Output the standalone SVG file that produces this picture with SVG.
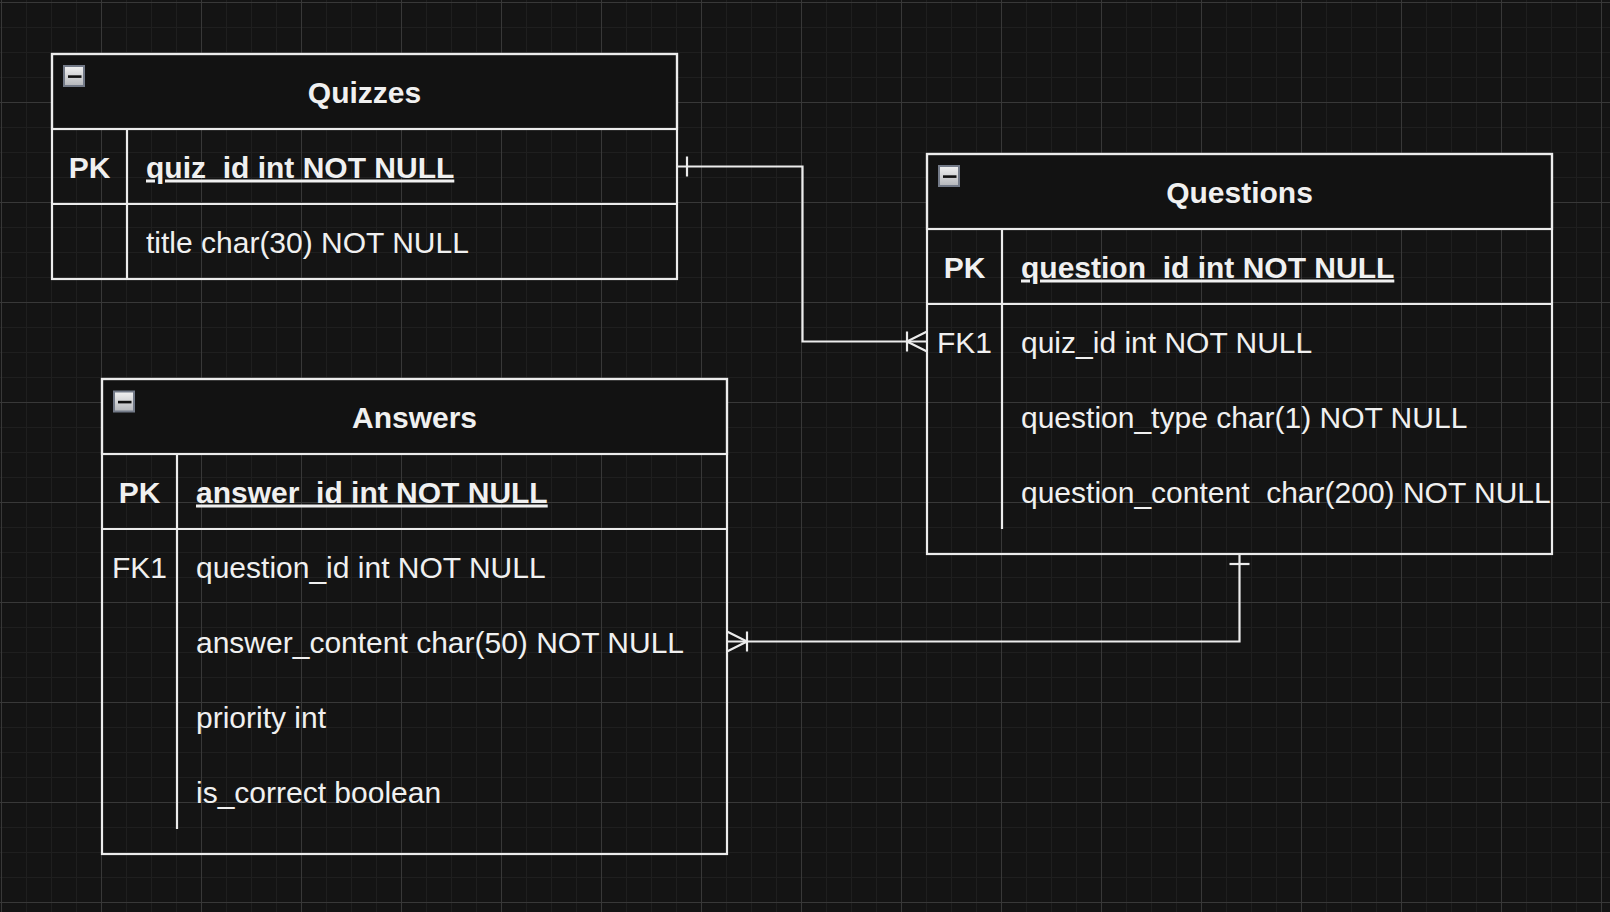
<svg xmlns="http://www.w3.org/2000/svg" width="1610" height="912" viewBox="0 0 1610 912">
  <style>
    .t { font-family: "Liberation Sans", Arial, Helvetica, sans-serif; font-size: 30px; fill: #f0f0f0; }
    .b { font-weight: bold; }
    .c { text-anchor: middle; }
    .u { text-decoration: underline; }
    .frame { fill: none; stroke: #ececec; stroke-width: 2.2; }
    .head { fill: #121212; stroke: #ececec; stroke-width: 2.2; }
    .ln { fill: none; stroke: #ececec; stroke-width: 2.2; }
    .conn { fill: none; stroke: #ececec; stroke-width: 2.2; }
  </style>
  <defs>
    <pattern id="grid" x="1" y="2" width="100" height="100" patternUnits="userSpaceOnUse">
      <path d="M25.5 0V100M50.5 0V100M75.5 0V100M0 25.5H100M0 50.5H100M0 75.5H100" stroke="#1f1f1f" stroke-width="1" fill="none"/>
      <path d="M0.5 0V100M0 0.5H100" stroke="#383838" stroke-width="1" fill="none"/>
    </pattern>
    <linearGradient id="icoGrad" x1="0" y1="0" x2="0" y2="1">
      <stop offset="0" stop-color="#f2f2f2"/>
      <stop offset="1" stop-color="#b4b6ba"/>
    </linearGradient>
    <g id="collapse">
      <rect x="1" y="1" width="20" height="20" fill="url(#icoGrad)" stroke="#737a88" stroke-width="2"/>
      <rect x="5" y="10.3" width="13.5" height="2.6" fill="#111111"/>
    </g>
  </defs>

  <rect x="0" y="0" width="1610" height="912" fill="#141414"/>
  <rect x="0" y="0" width="1610" height="912" fill="url(#grid)"/>

  <g id="connectors">
    <!-- Quizzes.quiz_id -> Questions.quiz_id -->
    <path class="conn" d="M677 166.5H802.5V341.5H927"/>
    <path class="conn" d="M687 156.5V176.5"/>
    <path class="conn" d="M907 331.5V351.5M927 331.5L907 341.5L927 351.5"/>
    <!-- Questions.question_id -> Answers.question_id -->
    <path class="conn" d="M1239.5 554V641.5H727"/>
    <path class="conn" d="M1229.5 564H1249.5"/>
    <path class="conn" d="M747 631.5V651.5M727 631.5L747 641.5L727 651.5"/>
  </g>

  <g id="quizzes">
    <rect class="head" x="52" y="54" width="625" height="75"/>
    <rect class="frame" x="52" y="54" width="625" height="225"/>
    <path class="ln" d="M52 204H677M127 129V279"/>
    <use href="#collapse" x="63" y="65"/>
    <text class="t b c" x="364.5" y="102.5">Quizzes</text>
    <text class="t b c" x="89.5" y="177.5">PK</text>
    <text class="t b u" x="146" y="177.5">quiz_id int NOT NULL</text>
    <text class="t" x="146" y="252.5">title char(30) NOT NULL</text>
  </g>

  <g id="questions">
    <rect class="head" x="927" y="154" width="625" height="75"/>
    <rect class="frame" x="927" y="154" width="625" height="400"/>
    <path class="ln" d="M927 304H1552M1002 229V529"/>
    <use href="#collapse" x="938" y="165"/>
    <text class="t b c" x="1239.5" y="202.5">Questions</text>
    <text class="t b c" x="964.5" y="277.5">PK</text>
    <text class="t b u" x="1021" y="277.5">question_id int NOT NULL</text>
    <text class="t c" x="964.5" y="352.5">FK1</text>
    <text class="t" x="1021" y="352.5">quiz_id int NOT NULL</text>
    <text class="t" x="1021" y="427.5">question_type char(1) NOT NULL</text>
    <text class="t" x="1021" y="502.5">question_content&#160; char(200) NOT NULL</text>
  </g>

  <g id="answers">
    <rect class="head" x="102" y="379" width="625" height="75"/>
    <rect class="frame" x="102" y="379" width="625" height="475"/>
    <path class="ln" d="M102 529H727M177 454V829"/>
    <use href="#collapse" x="113" y="390.5"/>
    <text class="t b c" x="414.5" y="427.5">Answers</text>
    <text class="t b c" x="139.5" y="502.5">PK</text>
    <text class="t b u" x="196" y="502.5">answer_id int NOT NULL</text>
    <text class="t c" x="139.5" y="577.5">FK1</text>
    <text class="t" x="196" y="577.5">question_id int NOT NULL</text>
    <text class="t" x="196" y="652.5">answer_content char(50) NOT NULL</text>
    <text class="t" x="196" y="727.5">priority int</text>
    <text class="t" x="196" y="802.5">is_correct boolean</text>
  </g>
</svg>
